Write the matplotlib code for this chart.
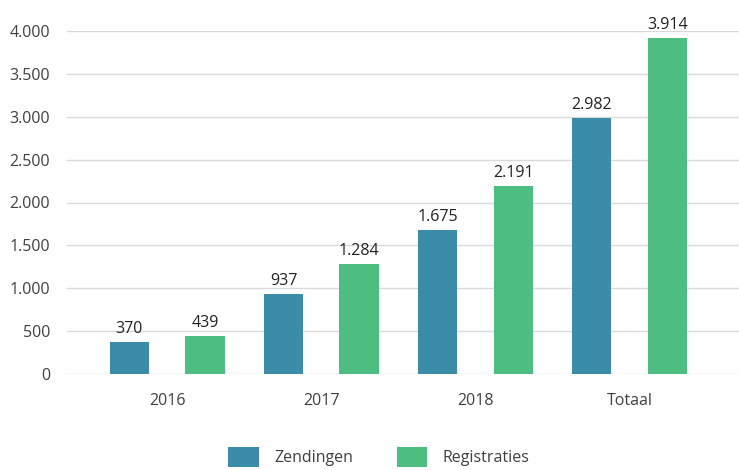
import matplotlib
matplotlib.use("Agg")
import matplotlib.pyplot as plt
import numpy as np

categories = ["2016", "2017", "2018", "Totaal"]
zendingen = [370, 937, 1675, 2982]
registraties = [439, 1284, 2191, 3914]
yticks = [0, 500, 1000, 1500, 2000, 2500, 3000, 3500, 4000]

blue = "#3a8ca7"
green = "#4dbd82"
txt = "#404040"

plt.rcParams['font.family'] = ['Open Sans', 'DejaVu Sans']


def fmt(v):
    return f"{v:,}".replace(",", ".")


fig = plt.figure(figsize=(7.39, 4.70), dpi=100)
ax = fig.add_axes([67 / 739, 1 - 374 / 470, 1 - 67 / 739, (374 - 31) / 470])

x = np.arange(len(categories))
w = 0.255
off = 0.245
b1 = ax.bar(x - off, zendingen, w, color=blue, label="Zendingen", zorder=3)
b2 = ax.bar(x + off, registraties, w, color=green, label="Registraties", zorder=3)

for bars, vals in ((b1, zendingen), (b2, registraties)):
    for r, v in zip(bars, vals):
        ax.text(r.get_x() + r.get_width() / 2, v + 60, fmt(v), ha="center",
                va="bottom", fontsize=11.5, color="#222222", clip_on=False)

ax.set_xlim(-0.65, 3.71)
ax.set_ylim(0, 4000)
ax.set_yticks(yticks)
ax.set_yticklabels([fmt(t) for t in yticks])
ax.set_xticks(x)
ax.set_xticklabels(categories)
ax.tick_params(axis="both", length=0, labelsize=11.5, colors=txt)
ax.tick_params(axis="y", pad=12)
ax.tick_params(axis="x", pad=14)
ax.yaxis.grid(True, color="#d9d9d9", linewidth=1, zorder=0)
for s in ax.spines.values():
    s.set_visible(False)

leg = fig.legend(handles=[b1, b2], loc="center", bbox_to_anchor=(0.513, 1 - 457 / 470),
                 ncol=2, frameon=False, fontsize=11.5, handlelength=1.9, handleheight=1.5,
                 columnspacing=2.7, handletextpad=1.0)
for t in leg.get_texts():
    t.set_color(txt)

fig.savefig("out.png", dpi=100)
